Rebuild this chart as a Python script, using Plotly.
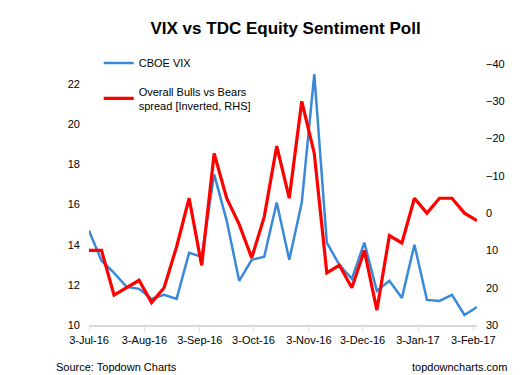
import datetime as dt
import plotly.graph_objects as go

start = dt.date(2016, 7, 3)
dates = [start + dt.timedelta(days=7 * i) for i in range(32)]

vix = [14.7, 13.2, 12.6, 11.9, 11.8, 11.3, 11.5, 11.3, 13.6, 13.4,
       17.5, 15.2, 12.2, 13.25, 13.4, 16.1, 13.25, 16.1, 22.5, 14.1,
       13.0, 12.3, 14.1, 11.7, 12.2, 11.35, 14.0, 11.25, 11.2, 11.5,
       10.5, 10.9]

spread = [10, 10, 22, 20, 18, 24, 20, 9, -4, 14,
          -16, -4, 3, 12, 1, -18, -4, -30, -16, 16,
          14, 20, 10, 26, 6, 8, -4, 0, -4, -4,
          0, 2]

tick_dates = ["2016-07-03", "2016-08-03", "2016-09-03", "2016-10-03",
              "2016-11-03", "2016-12-03", "2017-01-03", "2017-02-03"]
left_ticks = [10, 12, 14, 16, 18, 20, 22]
right_ticks = [-40, -30, -20, -10, 0, 10, 20, 30]

FONT = "Liberation Sans, Arial, sans-serif"

fig = go.Figure()
fig.add_trace(go.Scatter(x=dates, y=vix, mode="lines", name="CBOE VIX",
                         line=dict(color="#3A89D8", width=2.5),
                         legendgroup="a", yaxis="y"))
fig.add_trace(go.Scatter(x=dates, y=spread, mode="lines",
                         name="Overall Bulls vs Bears<br>spread [Inverted, RHS]",
                         line=dict(color="#FF0000", width=3.2),
                         legendgroup="b", yaxis="y2"))

fig.update_layout(
    width=524, height=375,
    margin=dict(l=89, r=47, t=64, b=50),
    paper_bgcolor="white", plot_bgcolor="white",
    font=dict(family=FONT, size=11, color="black"),
    title=dict(text="<b>VIX vs TDC Equity Sentiment Poll</b>",
               font=dict(family=FONT, size=17, color="black"),
               x=0.545, xanchor="center", y=0.926, yanchor="middle"),
    showlegend=True,
    legend=dict(x=0.025, y=1.059, xanchor="left", yanchor="top",
                bgcolor="rgba(0,0,0,0)", traceorder="grouped",
                tracegroupgap=10, font=dict(family=FONT, size=11),
                itemwidth=30),
    xaxis=dict(type="date", range=["2016-07-03", "2017-02-05"],
               tickvals=tick_dates, tickformat="%-d-%b-%y",
               showgrid=False, zeroline=False, showline=True,
               linecolor="#D9D9D9", linewidth=1.5,
               ticks="outside", ticklen=4, tickcolor="#D9D9D9",
               tickfont=dict(size=11)),
    yaxis=dict(range=[10, 23], tickvals=left_ticks, showgrid=False,
               zeroline=False, showline=False, ticks="",
               ticklabelstandoff=8, tickfont=dict(size=11)),
    yaxis2=dict(range=[30, -40], tickvals=right_ticks, overlaying="y",
                side="right", showgrid=False, zeroline=False,
                showline=False, ticks="", ticklabelstandoff=8,
                tickfont=dict(size=11)),
    annotations=[
        dict(text="Source: Topdown Charts", xref="paper", yref="paper",
             x=-0.09, y=-0.16, xanchor="left", yanchor="middle",
             showarrow=False, font=dict(size=11)),
        dict(text="topdowncharts.com", xref="paper", yref="paper",
             x=1.082, y=-0.16, xanchor="right", yanchor="middle",
             showarrow=False, font=dict(size=11)),
    ],
)

fig.write_html("out.html", config={"displayModeBar": False},
               post_script="document.body.style.margin='0';document.body.style.padding='0';")
